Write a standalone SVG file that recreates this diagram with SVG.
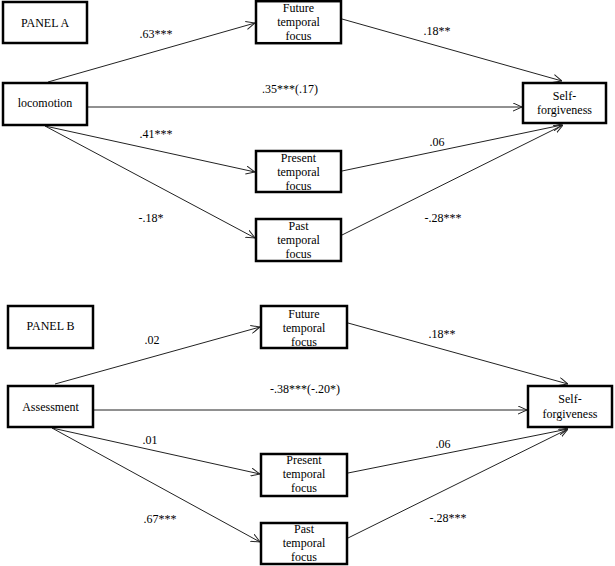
<svg xmlns="http://www.w3.org/2000/svg" width="615" height="566" viewBox="0 0 615 566">
<style>
.box{fill:#fff;stroke:#000;stroke-width:2.5}
.t{font-family:"Liberation Serif","Times New Roman",serif;font-size:12px;fill:#000;text-anchor:middle}
.c{stroke:#222;stroke-width:1;fill:none;marker-end:url(#arr)}
</style>
<defs>
<marker id="arr" viewBox="0 0 10 10" refX="10" refY="5" markerWidth="9" markerHeight="9" markerUnits="userSpaceOnUse" orient="auto">
<path d="M0,0.5 L10,5 L0,9.5" fill="none" stroke="#222" stroke-width="1.1"/>
</marker>
</defs>
<rect width="615" height="566" fill="#fff"/>
<g id="connectors">
<line class="c" x1="48" y1="82" x2="255" y2="23"/>
<line class="c" x1="88" y1="107" x2="522" y2="107"/>
<line class="c" x1="342" y1="19" x2="562" y2="81"/>
<line class="c" x1="45" y1="126" x2="255" y2="172"/>
<line class="c" x1="45" y1="126" x2="255" y2="238"/>
<line class="c" x1="342" y1="171" x2="562" y2="125"/>
<line class="c" x1="342" y1="235" x2="563" y2="125"/>
<line class="c" x1="55" y1="384" x2="260" y2="327"/>
<line class="c" x1="94" y1="410" x2="527" y2="410"/>
<line class="c" x1="348" y1="323" x2="568" y2="384"/>
<line class="c" x1="52" y1="428" x2="260" y2="474"/>
<line class="c" x1="52" y1="428" x2="260" y2="542"/>
<line class="c" x1="348" y1="473" x2="568" y2="429"/>
<line class="c" x1="348" y1="538" x2="568" y2="429"/>
</g>
<g id="labels">
<text class="t" x="156" y="38">.63***</text>
<text class="t" x="290" y="93">.35***(.17)</text>
<text class="t" x="437" y="35">.18**</text>
<text class="t" x="156" y="138">.41***</text>
<text class="t" x="151" y="222">-.18*</text>
<text class="t" x="437" y="146">.06</text>
<text class="t" x="443" y="222">-.28***</text>
<text class="t" x="152" y="344">.02</text>
<text class="t" x="305" y="393">-.38***(-.20*)</text>
<text class="t" x="442" y="338">.18**</text>
<text class="t" x="150" y="444">.01</text>
<text class="t" x="160" y="523">.67***</text>
<text class="t" x="443" y="448">.06</text>
<text class="t" x="448" y="522">-.28***</text>
</g>
<g id="panelA">
<rect class="box" x="3" y="2" width="84" height="41"/>
<text class="t" x="45" y="27">PANEL A</text>
</g>
<g id="futureA">
<rect class="box" x="256" y="1.2" width="85" height="42"/>
<text class="t" x="298.5" y="12">Future</text>
<text class="t" x="298.5" y="26">temporal</text>
<text class="t" x="298.5" y="40">focus</text>
</g>
<g id="locomotion">
<rect class="box" x="3" y="83" width="84" height="42"/>
<text class="t" x="45" y="107">locomotion</text>
</g>
<g id="selfA">
<rect class="box" x="523" y="83" width="83" height="40"/>
<text class="t" x="564.5" y="100">Self-</text>
<text class="t" x="564.5" y="114">forgiveness</text>
</g>
<g id="presentA">
<rect class="box" x="256" y="151" width="85" height="41"/>
<text class="t" x="298.5" y="162">Present</text>
<text class="t" x="298.5" y="176">temporal</text>
<text class="t" x="298.5" y="190">focus</text>
</g>
<g id="pastA">
<rect class="box" x="256" y="219" width="85" height="42"/>
<text class="t" x="298.5" y="230">Past</text>
<text class="t" x="298.5" y="244">temporal</text>
<text class="t" x="298.5" y="258">focus</text>
</g>
<g id="panelB">
<rect class="box" x="8" y="306" width="85" height="42"/>
<text class="t" x="50.5" y="330">PANEL B</text>
</g>
<g id="futureB">
<rect class="box" x="261" y="306" width="86" height="42"/>
<text class="t" x="304" y="318">Future</text>
<text class="t" x="304" y="332">temporal</text>
<text class="t" x="304" y="346">focus</text>
</g>
<g id="assessment">
<rect class="box" x="8" y="386" width="85" height="41"/>
<text class="t" x="50.5" y="411">Assessment</text>
</g>
<g id="selfB">
<rect class="box" x="528" y="386" width="84" height="41"/>
<text class="t" x="570" y="403">Self-</text>
<text class="t" x="570" y="418">forgiveness</text>
</g>
<g id="presentB">
<rect class="box" x="261" y="454" width="86" height="42"/>
<text class="t" x="304" y="464">Present</text>
<text class="t" x="304" y="478">temporal</text>
<text class="t" x="304" y="492">focus</text>
</g>
<g id="pastB">
<rect class="box" x="261" y="523" width="86" height="41"/>
<text class="t" x="304" y="533">Past</text>
<text class="t" x="304" y="547">temporal</text>
<text class="t" x="304" y="561">focus</text>
</g>
</svg>
